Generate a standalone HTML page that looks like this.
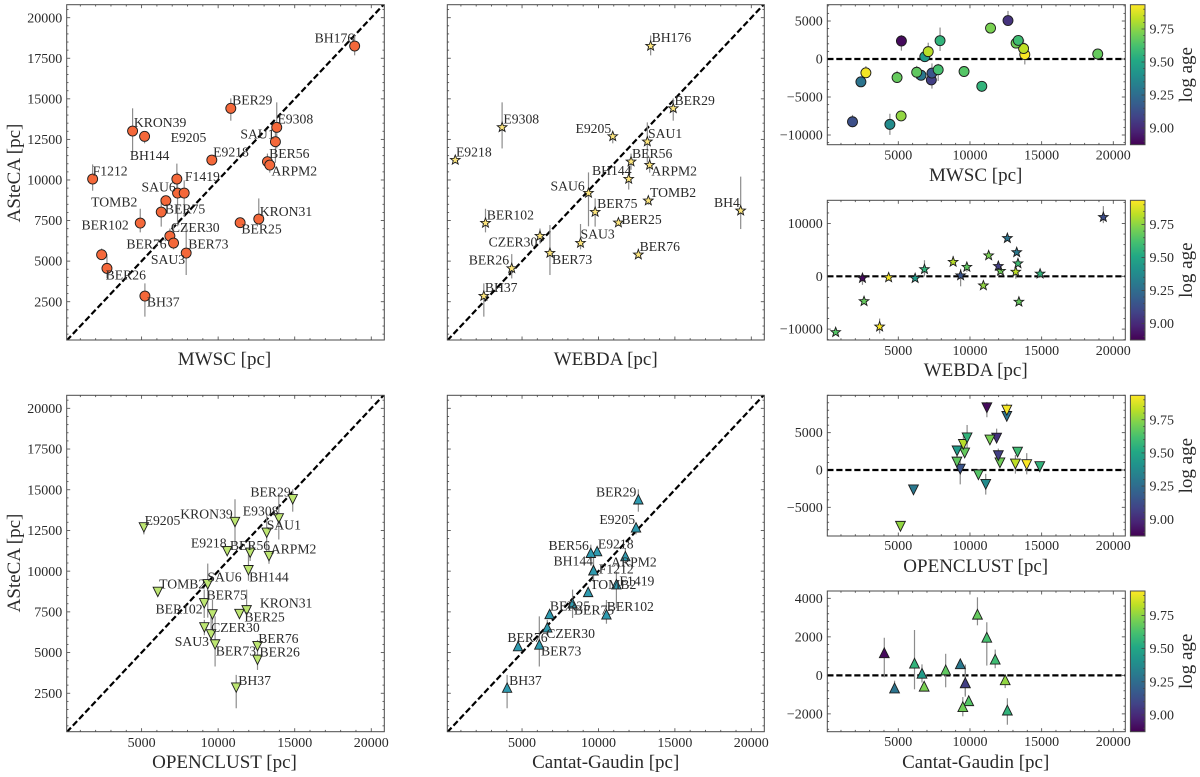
<!DOCTYPE html>
<html lang="en">
<head>
<meta charset="utf-8">
<title>ASteCA distance comparison</title>
<style>
html,body{margin:0;padding:0;background:#fff;width:1200px;height:777px;overflow:hidden}
svg{display:block;filter:blur(0.35px)}
text{font-family:"Liberation Serif",serif;fill:#2a2a2a}
</style>
</head>
<body>
<svg id="fig" xmlns="http://www.w3.org/2000/svg" width="1200" height="777" viewBox="0 0 1200 777">
<defs>
<linearGradient id="viridis" x1="0" y1="1" x2="0" y2="0">
<stop offset="0" stop-color="#440154"/><stop offset=".1" stop-color="#482475"/><stop offset=".2" stop-color="#414487"/><stop offset=".3" stop-color="#355f8d"/><stop offset=".4" stop-color="#2a788e"/><stop offset=".5" stop-color="#21918c"/><stop offset=".6" stop-color="#22a884"/><stop offset=".7" stop-color="#44bf70"/><stop offset=".8" stop-color="#7ad151"/><stop offset=".9" stop-color="#bddf26"/><stop offset="1" stop-color="#fde725"/>
</linearGradient>
</defs>
</svg>
<script>
// ---- data ----
const clusters = ["BH176","BER29","E9308","KRON39","E9205","SAU1","E9218","BER56","ARPM2","F1212","BH144","SAU6","F1419","TOMB2","BH4","BER75","KRON31","BER25","BER102","CZER30","SAU3","BER73","BER76","BER26","BH37"];
const asteca = [18254,14413,13243,13016,12688,12359,11230,11127,10921,10059,10059,9196,9196,8724,8107,8025,7594,7368,7347,6546,6115,5499,5396,4554,2849];
const errHigh = [650,615,1540,1400,250,1190,200,500,500,900,950,1270,780,150,2100,840,1270,200,880,465,1170,1725,380,880,780];
const errLow = [575,760,1300,1380,430,1300,200,500,470,720,650,2050,1470,250,1130,900,300,200,575,480,390,1355,200,620,1270];
const logAge = [9.68,9.56,9.93,9.38,9.76,9.83,9.65,9.7,9.6,9.13,9.07,9.15,9.62,9.3,9.12,9.67,9.03,9.72,9.68,9.45,9.82,9.56,9.28,9.92,8.9];
const mwsc = [18914,10826,13826,4413,5196,13740,9587,13218,13370,1804,7304,7348,7783,6587,null,6283,12653,11435,4913,6848,7087,7913,2391,2739,5217];
const webda = [13414,14892,3696,null,10935,13196,630,12131,13348,null,11979,9348,null,13261,19305,9783,null,11305,2609,6174,8826,6826,12609,4326,2500];
const openclust = [null,14870,13960,11100,5150,13170,10590,12090,13320,null,11980,9320,null,6060,null,9090,11860,11390,9630,9100,9540,9800,12570,12570,11180];
const cantat = [null,12609,null,null,12457,null,9913,9500,11761,9674,9674,null,11174,9326,null,8305,null,6804,10522,6652,null,6130,4739,null,4022];
const xTicks = [5000,10000,15000,20000];
const mainYTicks = [2500,5000,7500,10000,12500,15000,17500,20000];
const resTicksA = [-10000,-5000,0,5000];
const resTicksB = [-10000,0,10000];
const resTicksC = [-5000,0,5000];
const resTicksD = [-2000,0,2000,4000];
const ageTicks = [9.00,9.25,9.50,9.75];

// ---- layout ----
const NS = "http://www.w3.org/2000/svg";
const fig = document.getElementById("fig");
function mk(tag, attrs, parent){
  const e = document.createElementNS(NS, tag);
  for (const k in attrs) e.setAttribute(k, attrs[k]);
  parent.appendChild(e);
  return e;
}
function scale(d0,d1,p0,p1){ return v => p0 + (v-d0)/(d1-d0)*(p1-p0); }
function fmt(v){ return (v<0 ? "\u2212" : "") + Math.abs(v); }

const VIRIDIS = [[68,1,84],[72,36,117],[65,68,135],[53,95,141],[42,120,142],[33,145,140],[34,168,132],[68,191,112],[122,209,81],[189,223,38],[253,231,37]];
const AGE_MIN = 8.874, AGE_MAX = 9.934;
function ageColor(a){
  let t = (a-AGE_MIN)/(AGE_MAX-AGE_MIN)*10;
  t = Math.max(0,Math.min(9.999,t));
  const i = Math.floor(t), f = t-i, c0 = VIRIDIS[i], c1 = VIRIDIS[i+1];
  return "rgb("+c0.map((c,j)=>Math.round(c+(c1[j]-c)*f)).join(",")+")";
}
function markerShape(kind, cx, cy, r, fill, parent){
  const style = {fill:fill, stroke:"#1c1c1c", "stroke-width":0.9, "stroke-linejoin":"miter"};
  if (kind==="circle") return mk("circle", Object.assign({cx:cx,cy:cy,r:r},style), parent);
  let pts = [];
  if (kind==="star"){
    for (let i=0;i<10;i++){
      const rr = i%2 ? r*0.47 : r*1.12, a = -Math.PI/2 + i*Math.PI/5;
      pts.push((cx+rr*Math.cos(a)).toFixed(2)+","+(cy+rr*Math.sin(a)).toFixed(2));
    }
  } else if (kind==="up"){
    pts = [cx+","+(cy-r),(cx-r)+","+(cy+r),(cx+r)+","+(cy+r)];
  } else {
    pts = [cx+","+(cy+r),(cx-r)+","+(cy-r),(cx+r)+","+(cy-r)];
  }
  return mk("polygon", Object.assign({points:pts.join(" ")},style), parent);
}

let clipCount = 0;
function axesFrame(g, box, sx, sy, xMajor, xMinorStep, yMajor, yMinorStep, showX, showY, xl, yl){
  const ticks = mk("g",{stroke:"#555","stroke-width":0.9},g);
  
  
  const [L,T,R,B] = box;
  function xt(v,len){ const x=sx(v); mk("line",{x1:x,x2:x,y1:B,y2:B-len},ticks); mk("line",{x1:x,x2:x,y1:T,y2:T+len},ticks); }
  function yt(v,len){ const y=sy(v); mk("line",{x1:L,x2:L+len,y1:y,y2:y},ticks); mk("line",{x1:R,x2:R-len,y1:y,y2:y},ticks); }
  for (let v=xMinorStep*Math.ceil(xl[0]/xMinorStep); v<=xl[1]; v+=xMinorStep) xt(v, xMajor.includes(v)?3.5:1.8);
  for (let v=yMinorStep*Math.ceil(yl[0]/yMinorStep); v<=yl[1]; v+=yMinorStep) yt(v, yMajor.includes(v)?3.5:1.8);
  if (showX.on) xMajor.forEach(v=>{
    const t = mk("text",{x:sx(v),y:showX.y,"text-anchor":"middle","font-size":14},g);
    t.textContent = fmt(v);
    
    
  });
  if (showY) yMajor.forEach(v=>{
    const t = mk("text",{x:L-4.5,y:sy(v)+4.6,"text-anchor":"end","font-size":14},g);
    t.textContent = fmt(v);
    
    
  });
}
function spine(g, box){
  const r = mk("rect",{x:box[0],y:box[1],width:box[2]-box[0],height:box[3]-box[1],fill:"none",stroke:"#4a4a4a","stroke-width":1},g);
  
  
}
function clipFor(box){
  const id = "clip"+(++clipCount);
  const c = mk("clipPath",{id:id},fig);
  mk("rect",{x:box[0],y:box[1],width:box[2]-box[0],height:box[3]-box[1]},c);
  return "url(#"+id+")";
}
function axisLabel(g, str, x, y, rot, name){
  const t = mk("text",{x:x,y:y,"text-anchor":"middle","font-size":19},g);
  if (rot) t.setAttribute("transform","rotate(-90 "+x+" "+y+")");
  t.textContent = str;
  
  
}

function mainPanel(opt){
  const box = opt.box, xl=[110,20850], yl=[140,20800];
  const sx = scale(xl[0],xl[1],box[0],box[2]), sy = scale(yl[0],yl[1],box[3],box[1]);
  const g = mk("g",{},fig);
  
  
  const clip = clipFor(box);
  axesFrame(g,box,sx,sy,xTicks,1000,mainYTicks,500,{on:opt.xLabels,y:opt.tickY},opt.yLabels,xl,yl);
  const ref = mk("line",{x1:sx(xl[0]),y1:sy(xl[0]),x2:sx(yl[1]),y2:sy(yl[1]),stroke:"#000","stroke-width":2.2,"stroke-dasharray":"6.2 2.8","clip-path":clip},g);
  
  
  opt.values.forEach((xv,i)=>{
    if (xv===null) return;
    const e = mk("line",{x1:sx(xv),x2:sx(xv),y1:sy(asteca[i]+errHigh[i]),y2:sy(asteca[i]-errLow[i]),stroke:"#8c8c8c","stroke-width":1.2},g);
    
    
  });
  opt.values.forEach((xv,i)=>{
    if (xv===null) return;
    const m = markerShape(opt.marker,sx(xv),sy(asteca[i]),opt.size,opt.fill,g);
    
    
  });
  opt.values.forEach((xv,i)=>{
    if (xv===null) return;
    const off = opt.offsets[clusters[i]] || [2,-8];
    const t = mk("text",{x:sx(xv)+off[0],y:sy(asteca[i])+off[1]+4.4,"font-size":13.7},g);
    t.textContent = clusters[i];
    
    
  });
  spine(g,box);
  axisLabel(g,opt.xTitle,opt.xTitleX,opt.xTitleY,false,"x-axis-title");
  if (opt.yLabels) axisLabel(g,"ASteCA [pc]",20,opt.yTitleY,true,"y-axis-title");
}

function resPanel(opt){
  const box = opt.box, xl=[46,20837], yl=opt.yl;
  const sx = scale(xl[0],xl[1],box[0],box[2]), sy = scale(yl[0],yl[1],box[3],box[1]);
  const g = mk("g",{},fig);
  
  
  axesFrame(g,box,sx,sy,xTicks,1000,opt.yTicks,opt.yMinor,{on:true,y:opt.tickY},true,xl,yl);
  const zero = mk("line",{x1:box[0],x2:box[2],y1:sy(0),y2:sy(0),stroke:"#000","stroke-width":2.2,"stroke-dasharray":"6.2 2.8"},g);
  
  
  opt.values.forEach((xv,i)=>{
    if (xv===null) return;
    const d = xv-asteca[i];
    const e = mk("line",{x1:sx(xv),x2:sx(xv),y1:sy(d+errHigh[i]),y2:sy(d-errLow[i]),stroke:"#8c8c8c","stroke-width":1.2},g);
    
    
  });
  opt.values.forEach((xv,i)=>{
    if (xv===null) return;
    const m = markerShape(opt.marker,sx(xv),sy(xv-asteca[i]),opt.size,ageColor(logAge[i]),g);
    
    
  });
  spine(g,box);
  axisLabel(g,opt.xTitle,975.7,opt.xTitleY,false,"x-axis-title");

  // colorbar
  const cb = mk("g",{},g);
  
  
  const cL=1130.4, cR=1145, ay=scale(AGE_MIN,AGE_MAX,box[3],box[1]);
  mk("rect",{x:cL,y:box[1],width:cR-cL,height:box[3]-box[1],fill:"url(#viridis)"},cb);
  for (let k=178;k<=198;k++){
    const v=k*0.05, major=(k%5===0);
    mk("line",{x1:cR,x2:cR-(major?3.5:1.8),y1:ay(v),y2:ay(v),stroke:"#444","stroke-width":0.8},cb);
  }
  mk("rect",{x:cL,y:box[1],width:cR-cL,height:box[3]-box[1],fill:"none",stroke:"#4a4a4a","stroke-width":1},cb);
  ageTicks.forEach(v=>{
    const t = mk("text",{x:1149.5,y:ay(v)+4.6,"font-size":14},cb);
    t.textContent = v.toFixed(2);
    
    
  });
  axisLabel(cb,"log age",1192,(box[1]+box[3])/2,true,"colorbar-title");
}

mainPanel({name:"mwsc-scatter-panel",box:[66.7,4.7,384.3,340],values:mwsc,marker:"circle",size:5,fill:"#f4683a",xLabels:false,yLabels:true,xTitle:"MWSC [pc]",xTitleX:224.5,xTitleY:365,yTitleY:173,
 offsets:{BH176:[-40,-8],BER29:[1.3,-8.3],E9308:[.7,-8.3],SAU1:[-35,-7.7],KRON39:[1.3,-8.3],E9205:[26,1.3],BH144:[-47,-23.3],E9218:[1.3,-8],BER56:[1.7,-8],ARPM2:[1.7,6.3],F1212:[0,-7.7],F1419:[.7,-16.3],SAU6:[-36,-6],TOMB2:[-74.7,1.3],BER75:[3.7,-2.7],BER102:[-58.7,2.3],KRON31:[1,-7.3],BER25:[1.3,6.3],CZER30:[1,-8.3],BER76:[24.7,-10.7],SAU3:[-22.7,16.7],BER73:[2,-8.7],BER26:[-1.3,6.7],BH37:[2,6.3]}});
mainPanel({name:"webda-scatter-panel",box:[447.3,4.7,764.3,340],values:webda,marker:"star",size:4.5,fill:"#fde67e",xLabels:false,yLabels:false,xTitle:"WEBDA [pc]",xTitleX:605.7,xTitleY:365,
 offsets:{BH176:[1,-8.3],BER29:[1.3,-8],E9308:[1.3,-8.3],E9205:[-37.3,-8],SAU1:[.7,-8],BER56:[1,-8.3],BH144:[-36.7,-8.3],ARPM2:[1.7,6.3],E9218:[.7,-8],SAU6:[-38,-7],TOMB2:[1.7,-8.3],BH4:[-26.7,-8.3],BER75:[2,-8.3],BER102:[1.3,-8],BER25:[3,-3.3],SAU3:[0,-8.7],CZER30:[-51.3,6.3],BER76:[1.3,-8.3],BER73:[2,6.7],BER26:[-43,-8.3],BH37:[1,-8.3]}});
mainPanel({name:"openclust-scatter-panel",box:[66.7,395.3,384.3,731.7],values:openclust,marker:"down",size:4.7,fill:"#bde672",xLabels:true,yLabels:true,tickY:747,xTitle:"OPENCLUST [pc]",xTitleX:224.5,xTitleY:768,yTitleY:563,
 offsets:{BER29:[-42.3,-7.4],E9308:[-36,-7.4],E9205:[.7,-7],KRON39:[-54.7,-7.7],SAU1:[0,-7.7],E9218:[-36.3,-8],BER56:[-20.3,-7.4],ARPM2:[1.7,-7],SAU6:[-.3,-7],BH144:[.7,7],TOMB2:[1.3,-7.7],BER75:[2.3,-8.4],KRON31:[13.3,-7.4],BER102:[-57,-5.4],BER25:[5,3],CZER30:[6.7,0],BER76:[.7,-7.7],SAU3:[-36.3,7],BER73:[.7,6.6],BER26:[2,-7.7],BH37:[2,-7]}});
mainPanel({name:"cantat-gaudin-scatter-panel",box:[447.3,395.3,764.3,731.7],values:cantat,marker:"up",size:4.7,fill:"#2f9bb0",xLabels:true,yLabels:false,tickY:747,xTitle:"Cantat-Gaudin [pc]",xTitleX:605.7,xTitleY:768,
 offsets:{BER29:[-42.3,-7.3],E9205:[-36.7,-7.7],BER56:[-42.3,-7.3],E9218:[.7,-7],BH144:[-40,-9.3],ARPM2:[-14.3,6],F1212:[5.3,-1.3],F1419:[3,-3],TOMB2:[2,-7.3],BER25:[.3,-7.7],BER75:[1.3,7],BER102:[.3,-8],CZER30:[-1,6.3],BER76:[-10.7,-8.7],BER73:[1.7,6.7],BH37:[2,-7]}});

resPanel({name:"mwsc-residual-panel",box:[827.3,4.7,1125.3,144.7],yl:[-11276,7145],yTicks:resTicksA,yMinor:1000,values:mwsc,marker:"circle",size:5,tickY:159.5,xTitle:"MWSC [pc]",xTitleY:181});
resPanel({name:"webda-residual-panel",box:[827.3,200.3,1125.3,340],yl:[-12064,14394],yTicks:resTicksB,yMinor:2000,values:webda,marker:"star",size:4.5,tickY:355,xTitle:"WEBDA [pc]",xTitleY:376});
resPanel({name:"openclust-residual-panel",box:[827.3,395.3,1125.3,536],yl:[-8839,10000],yTicks:resTicksC,yMinor:1000,values:openclust,marker:"down",size:4.9,tickY:550,xTitle:"OPENCLUST [pc]",xTitleY:572});
resPanel({name:"cantat-gaudin-residual-panel",box:[827.3,591,1125.3,731.7],yl:[-2926,4381],yTicks:resTicksD,yMinor:400,values:cantat,marker:"up",size:4.9,tickY:746,xTitle:"Cantat-Gaudin [pc]",xTitleY:768});
</script>
</body>
</html>
